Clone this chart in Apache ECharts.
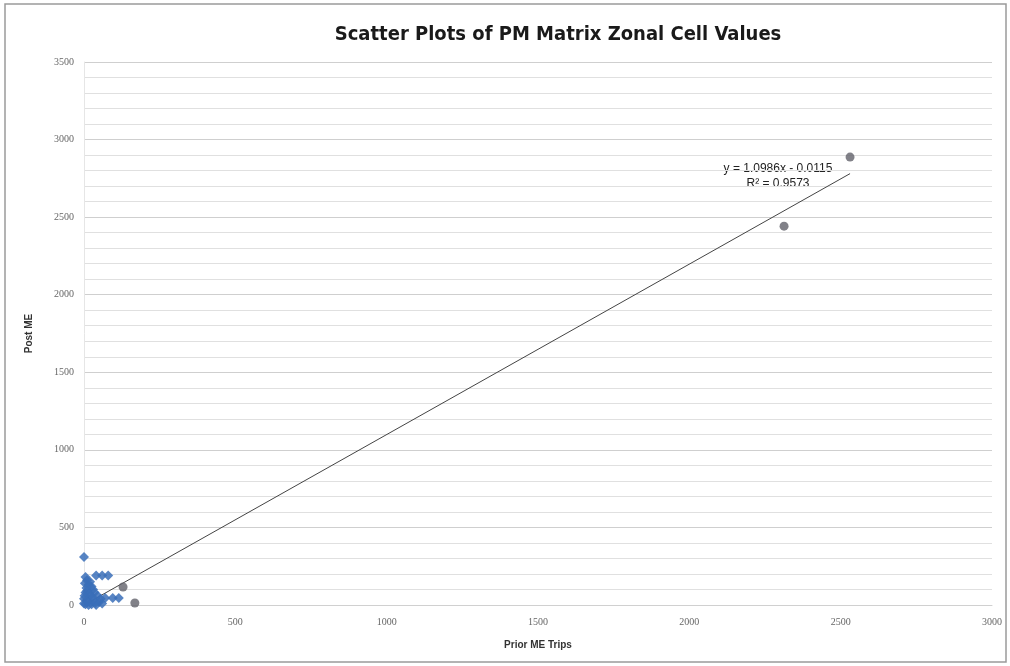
<!DOCTYPE html>
<html>
<head>
<meta charset="utf-8">
<script src="https://cdn.jsdelivr.net/npm/echarts@6/dist/echarts.min.js"></script>
<style>
  html, body { margin: 0; padding: 0; background: #fff; }
  #chart { width: 1010px; height: 666px; }
</style>
</head>
<body>
<div id="chart"></div>
<script>
// Zonal cell values: [prior ME trips, post ME]
const smallCells = [
  [0, 310], [5, 180], [10, 160], [20, 150], [40, 190], [60, 190], [80, 190],
  [15, 130], [25, 120], [30, 100], [10, 90], [5, 80], [35, 80], [45, 60],
  [20, 60], [0, 40], [10, 30], [30, 30], [50, 20], [60, 10], [0, 10], [5, 5],
  [15, 0], [25, 5], [40, 0], [70, 45], [95, 45], [115, 45], [55, 40],
  [8, 110], [3, 140], [18, 70], [28, 50], [12, 20], [2, 60], [38, 15]
];
const largeCells = [
  [129, 116], [168, 13], [2313, 2442], [2531, 2887]
];
// Linear trendline fitted to all cells
const trendSlope = 1.0986;
const trendIntercept = -0.0115;
const trendRange = [0, 2531];
const trendLabel = ['y = 1.0986x - 0.0115', 'R\u00b2 = 0.9573'];

const xTicks = [0, 500, 1000, 1500, 2000, 2500, 3000];
const yTicks = [0, 500, 1000, 1500, 2000, 2500, 3000, 3500];

const trendLine = trendRange.map(x => [x, trendSlope * x + trendIntercept]);

const chart = echarts.init(document.getElementById('chart'));
chart.setOption({
  backgroundColor: '#fff',
  animation: false,
  title: {
    text: 'Scatter Plots of PM Matrix Zonal Cell Values',
    left: 553, top: 20, textAlign: 'center',
    textStyle: {
      fontFamily: '"Liberation Sans Narrow", "DejaVu Sans Condensed", Arial, sans-serif',
      fontWeight: 'bold', fontSize: 20, color: '#1a1a1a'
    }
  },
  graphic: [
    { type: 'rect', shape: { x: 5, y: 4, width: 1001, height: 658 },
      style: { fill: null, stroke: '#9a9a9a', lineWidth: 1.5 }, silent: true },
    { type: 'text', x: 778, y: 161,
      style: { text: trendLabel.join('\n'), align: 'center', fill: '#222',
               font: '12px "Liberation Sans", Arial, sans-serif', lineHeight: 15 } }
  ],
  grid: { left: 84, right: 18, top: 62, bottom: 61 },
  xAxis: {
    type: 'value', min: 0, max: 3000, interval: 500,
    name: 'Prior ME Trips', nameLocation: 'middle', nameGap: 35,
    nameTextStyle: { fontWeight: 'bold', fontSize: 10, color: '#333',
                     fontFamily: '"Liberation Sans Narrow", Arial, sans-serif' },
    axisLine: { show: true, lineStyle: { color: '#d0d0d0' } },
    axisTick: { show: false },
    axisLabel: { color: '#666', fontSize: 10, margin: 12,
                 fontFamily: '"Liberation Serif", serif',
                 formatter: v => xTicks.includes(v) ? String(v) : '' },
    splitLine: { show: false }
  },
  yAxis: {
    type: 'value', min: 0, max: 3500, interval: 500,
    name: 'Post ME', nameLocation: 'middle', nameGap: 50,
    nameTextStyle: { fontWeight: 'bold', fontSize: 10, color: '#333',
                     fontFamily: '"Liberation Sans Narrow", Arial, sans-serif' },
    axisLine: { show: true, lineStyle: { color: '#e6e6e6' } },
    axisTick: { show: false },
    axisLabel: { color: '#666', fontSize: 10, margin: 10,
                 fontFamily: '"Liberation Serif", serif',
                 formatter: v => yTicks.includes(v) ? String(v) : '' },
    splitLine: { show: true, lineStyle: { color: '#cfcfcf', width: 1 } },
    minorTick: { show: false, splitNumber: 5 },
    minorSplitLine: { show: true, lineStyle: { color: '#e0e0e0', width: 1 } }
  },
  series: [
    {
      type: 'line', data: trendLine, symbol: 'none', silent: true,
      lineStyle: { color: '#444', width: 1 }, z: 3
    },
    {
      type: 'scatter', data: smallCells, symbol: 'diamond', symbolSize: 10,
      itemStyle: { color: '#3a6fb8', opacity: 0.85 }, z: 4
    },
    {
      type: 'scatter', data: largeCells, symbol: 'circle', symbolSize: 9,
      itemStyle: { color: '#62626a' }, z: 4
    }
  ]
});
</script>
</body>
</html>
